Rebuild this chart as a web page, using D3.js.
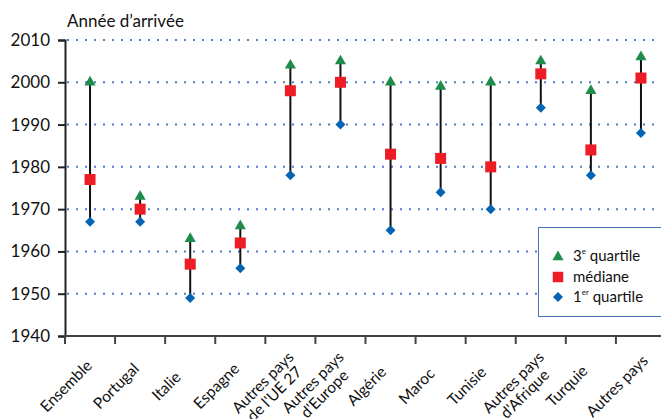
<!DOCTYPE html>
<html><head><meta charset="utf-8">
<script src="https://cdn.jsdelivr.net/npm/d3@7"></script>
<style>body{margin:0;background:#fff}svg{display:block;font-family:Lato,"Open Sans",sans-serif}</style>
</head><body>
<script>
const categories = ["Ensemble","Portugal","Italie","Espagne","Autres pays\nde l'UE 27","Autres pays\nd'Europe","Algérie","Maroc","Tunisie","Autres pays\nd'Afrique","Turquie","Autres pays"];
const q3 = [2000,1973,1963,1966,2004,2005,2000,1999,2000,2005,1998,2006];
const median = [1977,1970,1957,1962,1998,2000,1983,1982,1980,2002,1984,2001];
const q1 = [1967,1967,1949,1956,1978,1990,1965,1974,1970,1994,1978,1988];
const yTicks = [1940,1950,1960,1970,1980,1990,2000,2010];

const W=661,H=419;
const svg=d3.select("body").append("svg").attr("width",W).attr("height",H);
const x=d3.scaleBand().domain(categories).range([65,666]).padding(0);
const y=d3.scaleLinear().domain([1940,2010]).range([336,40]);
const cx=d=>x(d)+x.bandwidth()/2;

// grid
svg.append("g").selectAll("line").data(yTicks.filter(d=>d>1940)).join("line")
  .attr("x1",67).attr("x2",W).attr("y1",d=>y(d)).attr("y2",d=>y(d))
  .attr("stroke","#4a7fc8").attr("stroke-width",2).attr("stroke-dasharray","2,7");

// y axis
const ya=svg.append("g").attr("transform","translate(65,0)").call(d3.axisLeft(y).tickValues(yTicks).tickFormat(d3.format("d")).tickSize(7).tickPadding(8));
ya.select(".domain").attr("stroke","#222").attr("stroke-width",2);
ya.selectAll(".tick line").attr("stroke","#222").attr("stroke-width",2);
ya.selectAll(".tick text").attr("font-size",17).attr("fill","#111").attr("font-family","Lato");

// x axis
const xa=svg.append("g").attr("transform","translate(0,336)");
xa.append("line").attr("x1",64).attr("x2",W).attr("stroke","#444").attr("stroke-width",2);
const bounds=categories.map(c=>x(c)).slice(1);
xa.selectAll("line.t").data([65].concat(bounds)).join("line").attr("class","t")
  .attr("x1",d=>d).attr("x2",d=>d).attr("y1",0).attr("y2",8).attr("stroke","#444").attr("stroke-width",2);
const lab=xa.selectAll("text").data(categories).join("text")
  .attr("transform",d=>`translate(${cx(d)-24},50) rotate(-45)`)
  .attr("text-anchor","middle").attr("font-size",15.5).attr("fill","#111");
lab.each(function(d){
  const parts=d.split("\n");
  d3.select(this).selectAll("tspan").data(parts).join("tspan")
    .attr("x",0).attr("dy",(p,i)=>i?"1.05em":(parts.length>1?"0.02em":"0.35em")).text(p=>p);
});

// range lines
const g=svg.append("g");
g.selectAll("line").data(categories).join("line")
  .attr("x1",cx).attr("x2",cx)
  .attr("y1",(d,i)=>y(q1[i])).attr("y2",(d,i)=>y(q3[i]))
  .attr("stroke","#111").attr("stroke-width",2);

const tri=d3.symbol().type(d3.symbolTriangle).size(54);
const sq=d3.symbol().type(d3.symbolSquare).size(121);
const dia=d3.symbol().type(d3.symbolSquare).size(50);
g.selectAll("path.q1").data(categories).join("path").attr("class","q1")
  .attr("d",dia).attr("fill","#0563b3")
  .attr("transform",(d,i)=>`translate(${cx(d)},${y(q1[i])}) rotate(45)`);
g.selectAll("path.q3").data(categories).join("path").attr("class","q3")
  .attr("d",tri).attr("fill","#1e8c4a")
  .attr("transform",(d,i)=>`translate(${cx(d)},${y(q3[i])})`);
g.selectAll("path.med").data(categories).join("path").attr("class","med")
  .attr("d",sq).attr("fill","#ee1c25")
  .attr("transform",(d,i)=>`translate(${cx(d)},${y(median[i])})`);

// title
svg.append("text").attr("x",67).attr("y",27).attr("font-size",17).attr("fill","#111").text("Année d’arrivée");

// legend
const lg=svg.append("g");
lg.append("rect").attr("x",538.5).attr("y",227.5).attr("width",130).attr("height",89).attr("fill","#fff").attr("stroke","#4a72b8").attr("stroke-width",1);
lg.append("path").attr("d",tri).attr("fill","#1e8c4a").attr("transform","translate(558,257)");
lg.append("path").attr("d",d3.symbol().type(d3.symbolSquare).size(110)).attr("fill","#ee1c25").attr("transform","translate(558,277)");
lg.append("path").attr("d",dia).attr("fill","#0563b3").attr("transform","translate(558,297) rotate(45)");
const t1=lg.append("text").attr("x",573).attr("y",261).attr("font-size",15).attr("fill","#111");
t1.append("tspan").text("3");
t1.append("tspan").attr("font-size",8).attr("dy",-7).text("e");
t1.append("tspan").attr("dy",7).text(" quartile");
lg.append("text").attr("x",573).attr("y",282).attr("font-size",15).attr("fill","#111").text("médiane");
const t3=lg.append("text").attr("x",573).attr("y",302).attr("font-size",15).attr("fill","#111");
t3.append("tspan").text("1");
t3.append("tspan").attr("font-size",8).attr("dy",-7).text("er");
t3.append("tspan").attr("dy",7).text(" quartile");
</script>
</body></html>
